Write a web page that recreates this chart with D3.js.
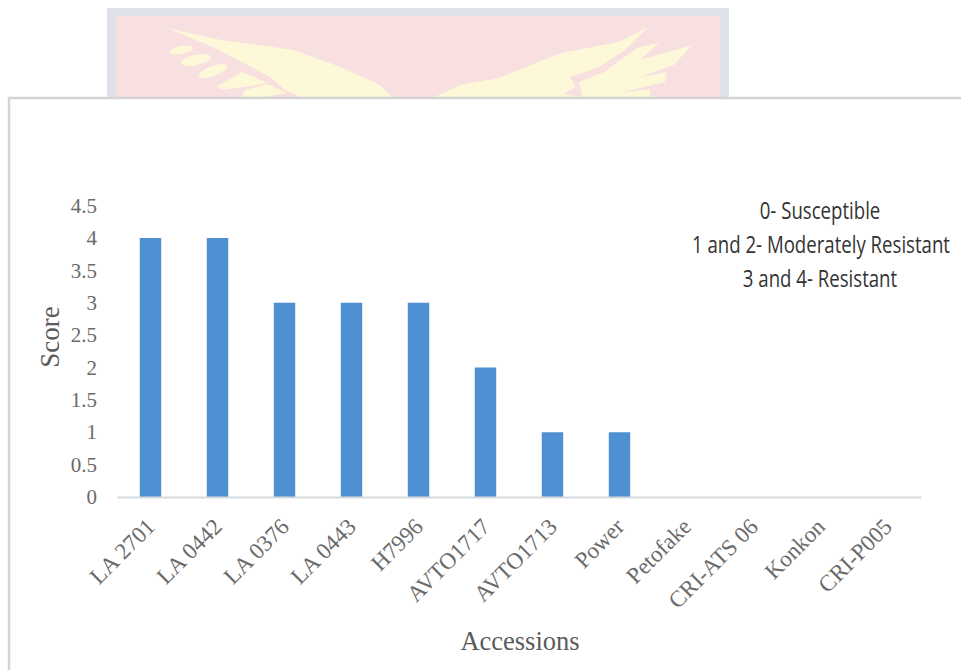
<!DOCTYPE html>
<html><head><meta charset="utf-8">
<script src="https://cdn.jsdelivr.net/npm/d3@7/dist/d3.min.js"></script>
<style>html,body{margin:0;padding:0;background:#fff}svg{display:block}</style>
</head><body><svg id="c" width="961" height="670"></svg>
<script>
const accessions = ["LA 2701","LA 0442","LA 0376","LA 0443","H7996","AVTO1717","AVTO1713","Power","Petofake","CRI-ATS 06","Konkon","CRI-P005"];
const scores = [4,4,3,3,3,2,1,1,0,0,0,0];
const scoreTicks = [0,0.5,1,1.5,2,2.5,3,3.5,4,4.5];
const scoreKey = ["0- Susceptible","1 and 2- Moderately Resistant","3 and 4- Resistant"];
const keyCentres = [820,821,820];

const serif = "'Liberation Serif','Times New Roman',serif";
const svg = d3.select("#c");

// Crest behind the card
const crest = svg.append("g");
crest.append("rect").attr("x",107).attr("y",8).attr("width",622).attr("height",95).attr("fill","#dfe2ea");
crest.append("rect").attr("x",116).attr("y",16).attr("width",604).attr("height",85).attr("fill","#f8dfe0");
const wingShapes = [
 [[167,28],[221,40],[294,50],[343,68],[380,85],[392,97],[300,97],[285,90],[270,77],[215,48]],
 [[242,72],[268,83],[250,86],[222,90],[217,86],[225,82]],
 [[242,97],[245,90],[268,84],[287,93],[262,97]],
 [[435,97],[460,85],[499,78],[561,53],[619,42],[648,27],[625,50],[597,68],[570,77],[576,87],[564,94],[582,97]],
 [[582,97],[579,82],[604,72],[637,48],[659,43],[640,60],[692,45],[674,65],[640,77],[667,72],[665,82],[619,93],[650,89],[650,97]]
];
const wingLine = d3.line().curve(d3.curveLinearClosed);
crest.selectAll("path.w").data(wingShapes).join("path").attr("d",wingLine).attr("fill","#fdf8d8");
crest.selectAll("ellipse").data([[181,50,12,4,-10],[196,60,15,5,-12],[213,71,15,5,-20]]).join("ellipse")
 .attr("cx",d=>d[0]).attr("cy",d=>d[1]).attr("rx",d=>d[2]).attr("ry",d=>d[3])
 .attr("transform",d=>`rotate(${d[4]} ${d[0]} ${d[1]})`).attr("fill","#fdf8d8");

// Card holding the chart
svg.append("rect").attr("x",9).attr("y",98).attr("width",960).attr("height",580)
 .attr("fill","#fff").attr("stroke","#d4d4d4").attr("stroke-width",2.5);

const x = d3.scaleBand().domain(accessions).range([117,921]);
const y = d3.scaleLinear().domain([0,4.5]).range([497,205.6]);
const barWidth = x.bandwidth()*0.32;

svg.append("g").selectAll("rect").data(accessions).join("rect")
 .attr("x",d=>x(d)+x.bandwidth()/2-barWidth/2)
 .attr("width",barWidth)
 .attr("y",(d,i)=>y(scores[i]))
 .attr("height",(d,i)=>y(0)-y(scores[i]))
 .attr("fill","#4f90d2");

// Horizontal baseline and category labels
const xAxis = svg.append("g").attr("transform","translate(0,497)").call(d3.axisBottom(x).tickSize(0).tickPadding(0));
xAxis.select(".domain").attr("stroke","#d6d9dc").attr("stroke-width",2);
xAxis.selectAll("text")
 .attr("font-family",serif).attr("font-size",23).attr("fill","#6a6a6a")
 .attr("text-anchor","end").attr("dy",0)
 .attr("transform","translate(6,31) rotate(-45)");

// Vertical score labels
const yAxis = svg.append("g").attr("transform","translate(97,0)").call(d3.axisLeft(y).tickValues(scoreTicks).tickFormat(d3.format("")).tickSize(0).tickPadding(0));
yAxis.select(".domain").remove();
yAxis.selectAll("text").attr("font-family",serif).attr("font-size",21).attr("fill","#6a6a6a");

svg.append("text").attr("transform","translate(59,337) rotate(-90)").attr("text-anchor","middle")
 .attr("font-family",serif).attr("font-size",27).attr("fill","#5a5a5a").text("Score");
svg.append("text").attr("x",520).attr("y",650).attr("text-anchor","middle")
 .attr("font-family",serif).attr("font-size",26.5).attr("fill","#5a5a5a").text("Accessions");

// Score key, set in a condensed face by narrowing the sans horizontally
svg.append("g").selectAll("text").data(scoreKey).join("text")
 .attr("transform",(d,i)=>`translate(${keyCentres[i]},${219+i*34}) scale(0.81,1)`)
 .attr("text-anchor","middle")
 .attr("font-family","'Open Sans',sans-serif").attr("font-size",23).attr("fill","#333")
 .text(d=>d);
</script></body></html>
